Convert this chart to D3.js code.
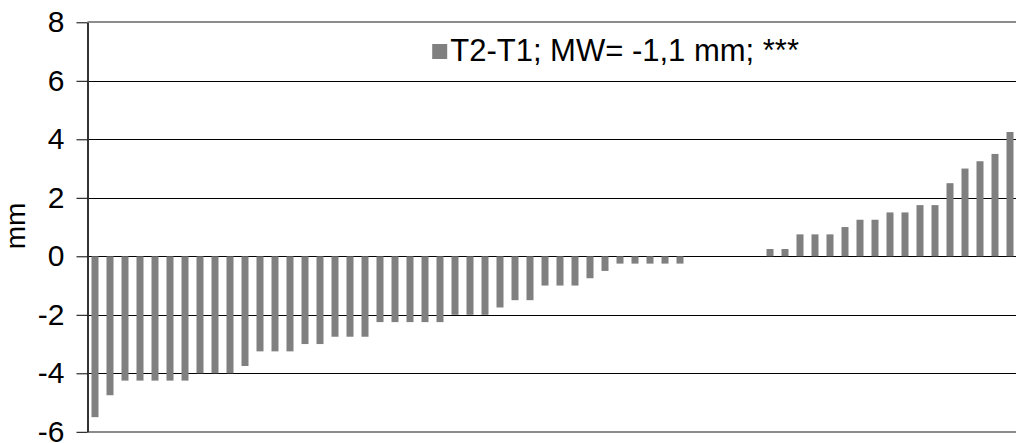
<!DOCTYPE html>
<html>
<head>
<meta charset="utf-8">
<script src="https://cdn.jsdelivr.net/npm/d3@7"></script>
<style>
  html, body { margin: 0; padding: 0; background: #fff; }
  svg { display: block; font-family: "Liberation Sans", Arial, sans-serif; }
</style>
</head>
<body>
<svg id="chart" width="1016" height="443"></svg>
<script>
// Differences T2-T1 per case (mm), sorted ascending
const differences = [
  -5.5, -4.75, -4.25, -4.25, -4.25, -4.25, -4.25, -4, -4, -4,
  -3.75, -3.25, -3.25, -3.25, -3, -3, -2.75, -2.75, -2.75, -2.25,
  -2.25, -2.25, -2.25, -2.25, -2, -2, -2, -1.75, -1.5, -1.5,
  -1, -1, -1, -0.75, -0.5, -0.25, -0.25, -0.25, -0.25, -0.25,
  0, 0, 0, 0, 0, 0.25, 0.25, 0.75, 0.75, 0.75,
  1, 1.25, 1.25, 1.5, 1.5, 1.75, 1.75, 2.5, 3, 3.25,
  3.5, 4.25
];
const yTicks = [-6, -4, -2, 0, 2, 4, 6, 8];
const seriesLabel = "T2-T1; MW= -1,1 mm; ***";
const yTitle = "mm";

const svg = d3.select("#chart");
const plot = { left: 87.5, right: 1017.5, top: 22.3, bottom: 431.8 };

const x = d3.scaleBand()
  .domain(d3.range(differences.length))
  .range([plot.left, plot.right])
  .paddingInner(8 / 15)
  .paddingOuter(4 / 15);

const y = d3.scaleLinear()
  .domain([-6, 8])
  .range([plot.bottom, plot.top]);

// horizontal gridlines
svg.append("g")
  .selectAll("line")
  .data(yTicks.filter(t => t !== -6 && t !== 8))
  .join("line")
  .attr("x1", plot.left)
  .attr("x2", plot.right)
  .attr("y1", d => Math.round(y(d)) + 0.5)
  .attr("y2", d => Math.round(y(d)) + 0.5)
  .attr("stroke", "#000")
  .attr("stroke-width", 1);

// plot area border (top and bottom)
svg.append("g")
  .selectAll("line")
  .data([-6, 8])
  .join("line")
  .attr("x1", plot.left)
  .attr("x2", plot.right)
  .attr("y1", d => Math.round(y(d)))
  .attr("y2", d => Math.round(y(d)))
  .attr("stroke", "#8c8c8c")
  .attr("stroke-width", 2);

// bars
svg.append("g")
  .selectAll("rect")
  .data(differences)
  .join("rect")
  .attr("x", (d, i) => x(i))
  .attr("width", x.bandwidth())
  .attr("y", d => y(Math.max(0, d)))
  .attr("height", d => Math.abs(y(d) - y(0)))
  .attr("fill", "#808080");

// y axis
const yAxis = d3.axisLeft(y)
  .tickValues(yTicks)
  .tickSize(11)
  .tickSizeOuter(0)
  .tickPadding(12)
  .tickFormat(d => String(d));

const gy = svg.append("g")
  .attr("transform", `translate(${plot.left},0)`)
  .call(yAxis);
gy.select(".domain").attr("stroke", "#333").attr("stroke-width", 2);
gy.selectAll(".tick line").attr("stroke", "#000");
gy.selectAll(".tick text")
  .attr("font-family", "'Liberation Sans', Arial, sans-serif")
  .attr("font-size", 30)
  .attr("fill", "#000");

// y axis title
svg.append("text")
  .attr("transform", `translate(25,226) rotate(-90)`)
  .attr("text-anchor", "middle")
  .attr("font-size", 28)
  .attr("fill", "#000")
  .text(yTitle);

// legend: key square sits just left of the label
const legend = svg.append("g");
const legendText = legend.append("text")
  .attr("x", 799)
  .attr("y", 61)
  .attr("text-anchor", "end")
  .attr("font-size", 31)
  .attr("fill", "#000")
  .text(seriesLabel);
const textLeft = legendText.node().getBBox().x;
legend.append("rect")
  .attr("x", textLeft - 18)
  .attr("y", 44)
  .attr("width", 15)
  .attr("height", 15)
  .attr("fill", "#808080");
</script>
</body>
</html>
